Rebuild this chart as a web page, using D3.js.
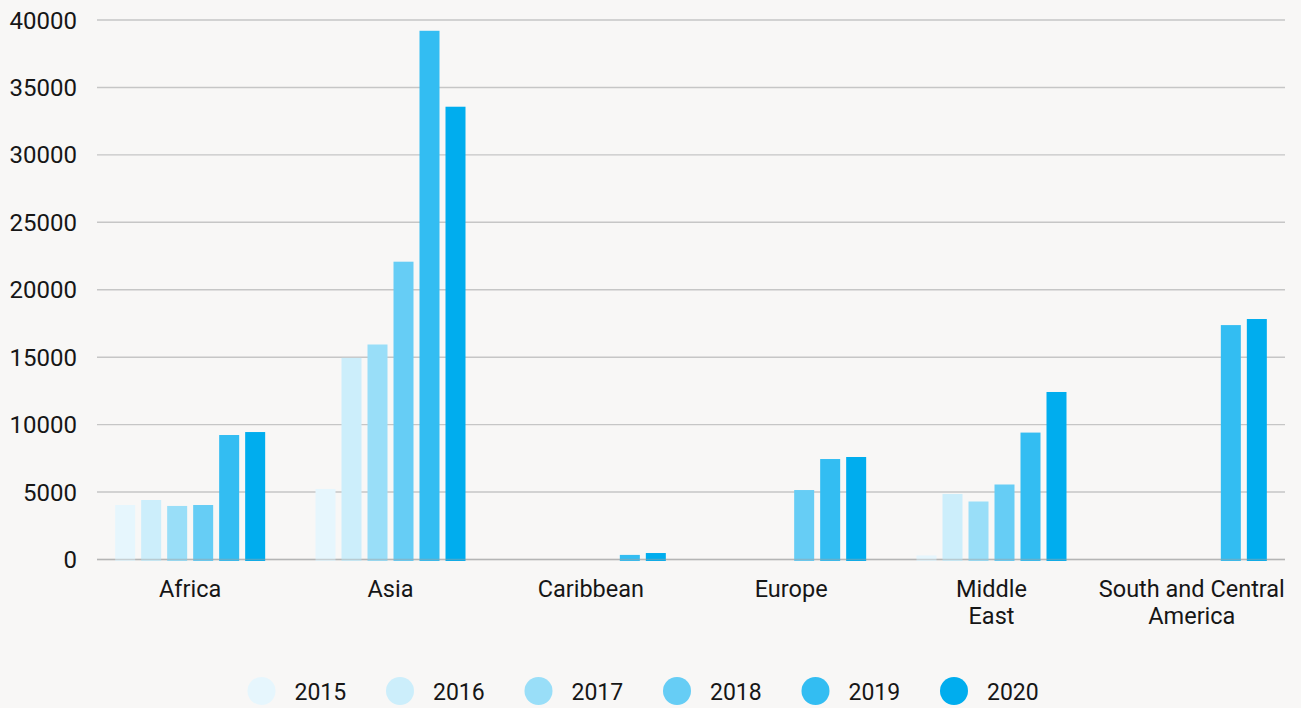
<!DOCTYPE html>
<html>
<head>
<meta charset="utf-8">
<script src="https://cdn.jsdelivr.net/npm/d3@7"></script>
<style>
  html, body { margin: 0; padding: 0; background: #f8f7f6; }
  svg { display: block; }
  text { font-family: Roboto, "Noto Sans", sans-serif; fill: #161616; }
</style>
</head>
<body>
<svg id="chart" width="1301" height="708"></svg>
<script>
// ---- data ----
const categories = ["Africa", "Asia", "Caribbean", "Europe", "Middle East", "South and Central America"];
const categoryLabelLines = [["Africa"], ["Asia"], ["Caribbean"], ["Europe"], ["Middle", "East"], ["South and Central", "America"]];
const years = ["2015", "2016", "2017", "2018", "2019", "2020"];
const values2015 = [4040, 5230, null, null, 300, null];
const values2016 = [4410, 14950, null, null, 4860, null];
const values2017 = [3970, 15940, null, null, 4300, null];
const values2018 = [4040, 22080, null, 5150, 5560, null];
const values2019 = [9230, 39200, 340, 7450, 9410, 17380];
const values2020 = [9450, 33570, 480, 7600, 12420, 17830];
const seriesValues = [values2015, values2016, values2017, values2018, values2019, values2020];
const yTicks = [0, 5000, 10000, 15000, 20000, 25000, 30000, 35000, 40000];
const colors = ["#e6f6fd", "#cceefb", "#99def8", "#66cdf5", "#33bdf2", "#00adee"];

// ---- layout ----
const svg = d3.select("#chart");
const gridLeft = 97, gridRight = 1285;

const x0 = d3.scaleBand().domain(categories).range([90, 1292]).padding(0);
const x1 = d3.scaleBand().domain(years).range([-75, 75]).paddingInner(6 / 26).paddingOuter(0);
const y = d3.scaleLinear().domain([0, 40000]).range([559.5, 20]);
const color = d3.scaleOrdinal().domain(years).range(colors);

// grid lines
svg.append("g").selectAll("line").data(yTicks).join("line")
  .attr("x1", gridLeft).attr("x2", gridRight)
  .attr("y1", d => y(d)).attr("y2", d => y(d))
  .attr("stroke", "#c6c6c6").attr("stroke-width", 1.4);

// y axis labels
svg.append("g").selectAll("text").data(yTicks).join("text")
  .attr("x", 77).attr("y", d => y(d) + 8.5)
  .attr("text-anchor", "end")
  .style("font-size", "24px")
  .text(d => d);

// bars
const rows = [];
categories.forEach((c, ci) => {
  years.forEach((yr, yi) => {
    const v = seriesValues[yi][ci];
    if (v != null) rows.push({ cat: c, year: yr, value: v });
  });
});
svg.append("g").selectAll("rect").data(rows).join("rect")
  .attr("x", d => x0(d.cat) + x0.bandwidth() / 2 + x1(d.year))
  .attr("width", x1.bandwidth())
  .attr("y", d => y(d.value))
  .attr("height", d => y(0) - y(d.value) + 1.5)
  .attr("fill", d => color(d.year));

// baseline over bars
svg.append("line")
  .attr("x1", gridLeft).attr("x2", gridRight)
  .attr("y1", y(0)).attr("y2", y(0))
  .attr("stroke", "rgba(160,160,160,0.45)").attr("stroke-width", 1.4);

// x axis labels
const xl = svg.append("g").selectAll("text").data(categories).join("text")
  .attr("text-anchor", "middle")
  .style("font-size", "23.5px")
  .attr("x", d => x0(d) + x0.bandwidth() / 2)
  .attr("y", 597);
xl.each(function (d, i) {
  const t = d3.select(this);
  categoryLabelLines[i].forEach((line, li) => {
    t.append("tspan")
      .attr("x", x0(d) + x0.bandwidth() / 2)
      .attr("dy", li === 0 ? 0 : 27)
      .text(line);
  });
});

// legend
const legend = svg.append("g").selectAll("g").data(years).join("g")
  .attr("transform", (d, i) => `translate(${261.5 + i * 138.5},691)`);
legend.append("circle").attr("r", 14).attr("fill", d => color(d));
legend.append("text").attr("x", 33).attr("y", 8.5)
  .style("font-size", "23px")
  .text(d => d);
</script>
</body>
</html>
